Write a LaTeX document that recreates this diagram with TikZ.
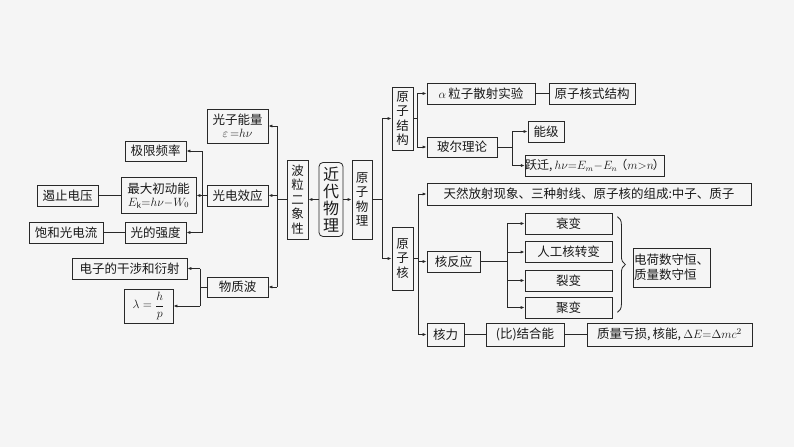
\documentclass[tikz,border=0pt]{standalone}
\usepackage{fontspec}
\setmainfont{Noto Sans CJK SC}
\usetikzlibrary{arrows.meta,decorations.pathreplacing,calc}
\definecolor{bgc}{RGB}{245,245,245}
\definecolor{lnc}{RGB}{40,40,40}
\begin{document}
\begin{tikzpicture}[x=1pt,y=-1pt,
  box/.style={draw=lnc, line width=0.8pt, inner sep=0pt, align=center, font=\fontsize{12.5}{15}\selectfont, text=black!90},
  vbox/.style={box, font=\fontsize{12.5}{14.5}\selectfont},
  arr/.style={draw=lnc, line width=0.8pt, -{Latex[length=4pt,width=3.2pt]}},
  con/.style={draw=lnc, line width=0.8pt}]
\fill[bgc] (0,0) rectangle (794,447);
\useasboundingbox (0,0) rectangle (794,447);

% centre
\node[box, rounded corners=4pt, minimum width=24, minimum height=74, font=\fontsize{16}{17}\selectfont] (jd) at (331,199.5) {近\\代\\物\\理};
\node[vbox, minimum width=21, minimum height=79] (bl) at (297.5,199.5) {波\\粒\\二\\象\\性};
\node[vbox, minimum width=20, minimum height=79] (yw) at (362,199.5) {原\\子\\物\\理};

% left
\node[box, minimum width=61, minimum height=34] (gz) at (237.5,126) {光子能量\\[-2pt]$\varepsilon\,{=}h\nu$};
\node[box, minimum width=61, minimum height=20] (jx) at (155.5,151) {极限频率};
\node[box, minimum width=61, minimum height=21] (gd) at (237.5,195.5) {光电效应};
\node[box, minimum width=75, minimum height=36] (zd) at (158.5,195.5) {最大初动能\\[-2pt]{\fontsize{12}{14}\selectfont$E_{\mathrm k}{=}h\nu{-}W_0$}};
\node[box, minimum width=61, minimum height=21] (ez) at (67.5,195.5) {遏止电压};
\node[box, minimum width=74, minimum height=21] (bh) at (66,232.5) {饱和光电流};
\node[box, minimum width=61, minimum height=21] (gq) at (155.5,232.5) {光的强度};
\node[box, minimum width=115, minimum height=21] (dz) at (129.5,268.5) {电子的干涉和衍射};
\node[box, minimum width=61, minimum height=20] (wz) at (237.5,287) {物质波};
\node[box, minimum width=49, minimum height=34] (lam) at (148.5,306) {$\lambda=\displaystyle\frac{h}{p}$};

% right
\node[vbox, minimum width=21, minimum height=63] (yj) at (402.5,118.5) {原\\子\\结\\构};
\node[vbox, minimum width=21, minimum height=63] (yh) at (402.5,258.5) {原\\子\\核};
\node[box, minimum width=108, minimum height=21] (al) at (481,93.5) {$\alpha$\,粒子散射实验};
\node[box, minimum width=86, minimum height=21] (hs) at (592,93.5) {原子核式结构};
\node[box, minimum width=70, minimum height=20] (be) at (462,147) {玻尔理论};
\node[box, minimum width=36, minimum height=21] (nj) at (546,131.5) {能级};
\node[box, minimum width=134, minimum height=21, font=\fontsize{12}{14}\selectfont] (yq) at (595,165.5) {跃迁,\,$h\nu{=}E_m{-}E_n$\hspace{-2pt}（$m{>}n$\hspace{-1pt}）};
\node[box, minimum width=324, minimum height=22] (tr) at (589,194) {天然放射现象、三种射线、原子核的组成:中子、质子};
\node[box, minimum width=53, minimum height=21] (hf) at (453.5,261.5) {核反应};
\node[box, minimum width=87, minimum height=21] (s1) at (568.5,223.5) {衰变};
\node[box, minimum width=87, minimum height=21] (s2) at (568.5,252) {人工核转变};
\node[box, minimum width=87, minimum height=21] (s3) at (568.5,280.5) {裂变};
\node[box, minimum width=87, minimum height=21] (s4) at (568.5,307.5) {聚变};
\node[box, minimum width=77, minimum height=39, align=left] (sh) at (671.5,267.5) {电荷数守恒、\\质量数守恒};
\node[box, minimum width=37, minimum height=23] (hl) at (445.5,334.5) {核力};
\node[box, minimum width=78, minimum height=23] (bj) at (525,334.5) {(比)结合能};
\node[box, minimum width=165, minimum height=23] (zl) at (669.5,334.5) {质量亏损,\,核能,\,$\Delta E{=}\Delta mc^2$};

% connectors centre
\draw[arr] (jd.west) -- (bl.east);
\draw[arr] (jd.east) -- (yw.west);

% left trunk
\coordinate (LT) at (277,199.5);
\draw[con] (bl.west) -- (LT);
\draw[con] (LT |- gz.east) -- (LT |- wz.east);
\draw[arr] (LT |- gz.east) -- (gz.east);
\draw[arr] (LT |- gd.east) -- (gd.east);
\draw[arr] (LT |- wz.east) -- (wz.east);

\coordinate (L2) at (202,195.5);
\draw[con] (gd.west) -- (L2);
\draw[con] (L2 |- jx.east) -- (L2 |- gq.east);
\draw[arr] (L2 |- jx.east) -- (jx.east);
\draw[arr] (L2 |- zd.east) -- (zd.east);
\draw[arr] (L2 |- gq.east) -- (gq.east);
\draw[con] (ez.east) -- (zd.west);
\draw[con] (bh.east) -- (gq.west);

\coordinate (L3) at (200,287);
\draw[con] (wz.west) -- (L3);
\draw[con] (L3 |- dz.east) -- (L3 |- lam.east);
\draw[arr] (L3 |- dz.east) -- (dz.east);
\draw[arr] (L3 |- lam.east) -- (lam.east);

% right trunk
\coordinate (R1) at (382,199.5);
\draw[con] (yw.east) -- (R1);
\draw[con] (R1 |- yj.west) -- (R1 |- yh.west);
\draw[arr] (R1 |- yj.west) -- (yj.west);
\draw[arr] (R1 |- yh.west) -- (yh.west);

\coordinate (R2) at (417,118.5);
\draw[con] (yj.east) -- (R2);
\draw[con] (R2 |- al.west) -- (R2 |- be.west);
\draw[arr] (R2 |- al.west) -- (al.west);
\draw[arr] (R2 |- be.west) -- (be.west);
\draw[con] (al.east) -- (hs.west);

\coordinate (R3) at (512,147);
\draw[con] (be.east) -- (R3);
\draw[con] (R3 |- nj.west) -- (R3 |- yq.west);
\draw[arr] (R3 |- nj.west) -- (nj.west);
\draw[arr] (R3 |- yq.west) -- (yq.west);

\coordinate (R4) at (418,258.5);
\draw[con] (yh.east) -- (R4);
\draw[con] (R4 |- tr.west) -- (R4 |- hl.west);
\draw[arr] (R4 |- tr.west) -- (tr.west);
\draw[arr] (R4 |- hf.west) -- (hf.west);
\draw[arr] (R4 |- hl.west) -- (hl.west);

\coordinate (R5) at (507,261.5);
\draw[con] (hf.east) -- (R5);
\draw[con] (R5 |- s1.west) -- (R5 |- s4.west);
\draw[arr] (R5 |- s1.west) -- (s1.west);
\draw[arr] (R5 |- s2.west) -- (s2.west);
\draw[arr] (R5 |- s3.west) -- (s3.west);
\draw[arr] (R5 |- s4.west) -- (s4.west);

\draw[con, decorate, decoration={brace, amplitude=8pt}] ($(s1.north east)+(5,4)$) -- ($(s4.south east)+(5,-6)$);

\draw[con] (hl.east) -- (bj.west);
\draw[con] (bj.east) -- (zl.west);
\end{tikzpicture}
\end{document}
